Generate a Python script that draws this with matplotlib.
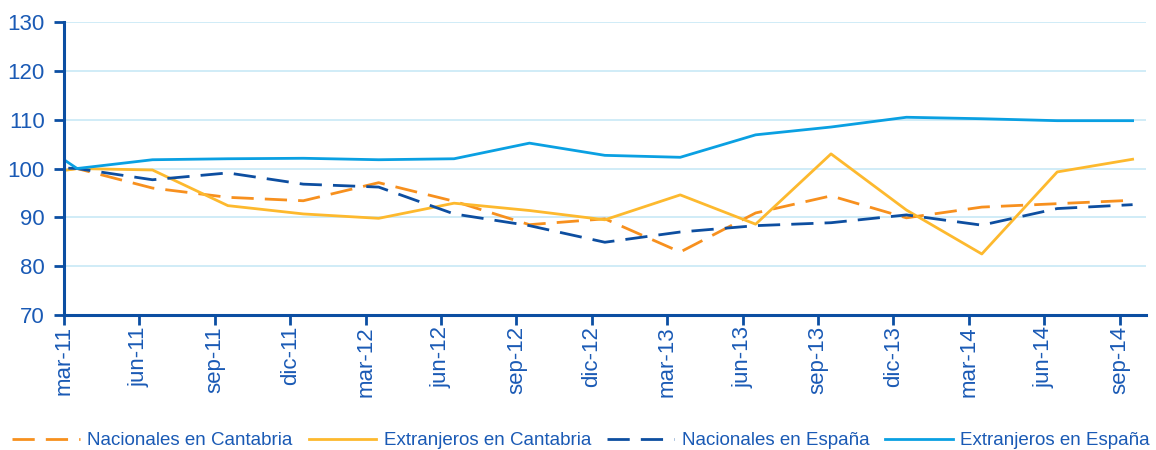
import numpy as np
import matplotlib
matplotlib.use("Agg")
import matplotlib.pyplot as plt

plt.rcParams['font.family'] = ['Liberation Sans', 'DejaVu Sans']

# trimestres (el primero, dic-10, solo asoma por la izquierda del eje)
meses = ['dic-10', 'mar-11', 'jun-11', 'sep-11', 'dic-11', 'mar-12', 'jun-12', 'sep-12',
         'dic-12', 'mar-13', 'jun-13', 'sep-13', 'dic-13', 'mar-14', 'jun-14', 'sep-14']

nac_cantabria = [98.3, 100.0, 96.0, 94.1, 93.4, 97.1, 93.3, 88.5, 89.7, 82.9, 90.9,
                 94.4, 89.9, 92.1, 92.8, 93.5]
ext_cantabria = [97.7, 100.0, 99.7, 92.4, 90.7, 89.8, 92.9, 91.4, 89.5, 94.6, 88.6,
                 103.0, 91.5, 82.5, 99.3, 101.9]
nac_espana = [100.6, 100.0, 97.7, 99.1, 96.8, 96.2, 90.7, 88.3, 84.9, 87.0, 88.3,
              88.9, 90.5, 88.4, 91.8, 92.6]
ext_espana = [110.4, 100.0, 101.8, 102.0, 102.1, 101.8, 102.0, 105.2, 102.7, 102.3, 106.9,
              108.5, 110.5, 110.2, 109.8, 109.8]

azul_eje = '#0B4EA2'
azul_txt = '#1A5AB5'

fig = plt.figure(figsize=(11.56, 4.5), dpi=100)
ax = fig.add_axes([0.0554, 0.30, 0.9359, 0.651])

# los puntos quedan un poco a la derecha de cada marca del eje
desfase = 0.173
x = np.arange(len(meses)) - 1 + desfase

ax.plot(x, nac_cantabria, color='#F7901E', lw=2, dashes=(8, 4), label='Nacionales en Cantabria')
ax.plot(x, ext_cantabria, color='#FDB92E', lw=2, label='Extranjeros en Cantabria')
ax.plot(x, nac_espana, color='#0D4EA0', lw=2, dashes=(8, 4), label='Nacionales en España')
ax.plot(x, ext_espana, color='#0AA0E2', lw=2, label='Extranjeros en España')

ax.set_xlim(0, 14.35)
ax.set_ylim(70, 130)
ax.set_yticks(range(70, 131, 10))
ax.set_xticks(range(len(meses) - 1))
ax.set_xticklabels(meses[1:], rotation=90, fontsize=16, color=azul_txt)
ax.tick_params(length=7, width=2, color=azul_eje)
ax.tick_params(axis='y', labelsize=16, labelcolor=azul_txt, pad=7)
ax.tick_params(axis='x', pad=1)

ax.grid(axis='y', color='#CDEBF7', lw=1.3)
ax.set_axisbelow(True)
for s in ['top', 'right']:
    ax.spines[s].set_visible(False)
for s in ['left', 'bottom']:
    ax.spines[s].set_color(azul_eje)
    ax.spines[s].set_linewidth(2.2)

leg = fig.legend(loc='lower left', bbox_to_anchor=(-0.004, -0.036), ncol=4, frameon=False,
                 fontsize=13.5, handlelength=3.6, handletextpad=0.4, columnspacing=0.85)
for t in leg.get_texts():
    t.set_color(azul_txt)

fig.savefig('out.png', dpi=100)
